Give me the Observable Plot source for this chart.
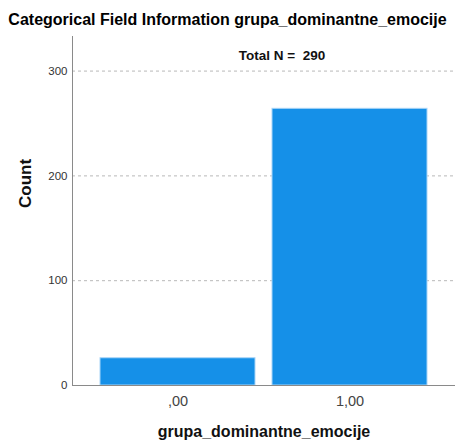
<!DOCTYPE html>
<html>
<head>
<meta charset="utf-8">
<script src="https://cdn.jsdelivr.net/npm/d3@7"></script>
<script src="https://cdn.jsdelivr.net/npm/@observablehq/plot@0.6"></script>
<style>
  html, body { margin: 0; padding: 0; background: #fff; }
  #wrap { position: relative; width: 455px; height: 441px; overflow: hidden; font-family: "Liberation Sans", Arial, sans-serif; }
  #title { position: absolute; left: 0; top: 10px; width: 455px; text-align: center; font-weight: bold; font-size: 16px; line-height: 20px; color: #000; white-space: nowrap; }
  #chart { position: absolute; left: 0; top: 0; }
</style>
</head>
<body>
<div id="wrap">
  <div id="chart"></div>
  <div id="title"></div>
</div>
<script>
const titleText = "Categorical Field Information grupa_dominantne_emocije";
const categories = [",00", "1,00"];
const counts = [26, 264];
const yTicks = [0, 100, 200, 300];
const totalN = 290;
const xLabel = "grupa_dominantne_emocije";
const yLabel = "Count";

const data = categories.map((c, i) => ({cat: c, count: counts[i]}));

document.getElementById("title").textContent = titleText;

const chart = Plot.plot({
  width: 455,
  height: 441,
  marginTop: 36,
  marginLeft: 72,
  marginRight: 0,
  marginBottom: 56,
  style: {fontFamily: "'Liberation Sans', Arial, sans-serif", background: "#fff"},
  x: {domain: categories, paddingInner: 0.1, paddingOuter: 0.16, axis: null},
  y: {domain: [0, 333], axis: null},
  marks: [
    Plot.gridY(yTicks.filter(d => d > 0), {stroke: "#b8b8b8", strokeOpacity: 1, strokeDasharray: "3,3"}),
    Plot.barY(data, {x: "cat", y: "count", fill: "#1590e8", stroke: "#a9d5f7", strokeWidth: 1}),
    Plot.ruleY([0], {stroke: "#8a8a8a"}),
    Plot.frame({anchor: "left", stroke: "#8a8a8a"}),
    Plot.axisY(yTicks, {tickSize: 0, tickPadding: 5, fontSize: 11.5, fill: "#333", label: null}),
    Plot.axisX({tickSize: 0, tickPadding: 10, fontSize: 14.5, fill: "#444", label: null}),
    Plot.text([`Total N =  ${totalN}`], {frameAnchor: "top", dx: 18, dy: 14, fontWeight: "bold", fontSize: 13.5, fill: "#111"}),
    Plot.text([yLabel], {frameAnchor: "left", rotate: -90, dx: -47, dy: -3, fontWeight: "bold", fontSize: 17, fill: "#111"}),
    Plot.text([xLabel], {frameAnchor: "bottom", lineAnchor: "top", dy: 40, fontWeight: "bold", fontSize: 16, fill: "#111"})
  ]
});
document.getElementById("chart").appendChild(chart);
</script>
</body>
</html>
